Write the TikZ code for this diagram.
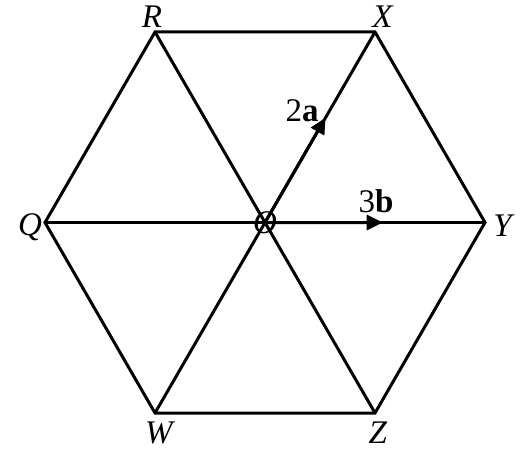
\documentclass[tikz,border=0pt]{standalone}
\usepackage{fontspec}
\setmainfont{Liberation Serif}
\usepackage{tikz}
\usetikzlibrary{calc,arrows.meta,positioning}

\tikzset{
  edge/.style={line width=1.5pt, line join=miter},
  vec/.style={line width=1.5pt, -{Triangle[length=8pt,width=7.5pt]}},
  lbl/.style={inner sep=0pt, font=\fontsize{16.5}{19}\selectfont}
}

\begin{document}
\begin{tikzpicture}[x=0.5pt,y=-0.5pt]

\useasboundingbox (0,0) rectangle (522,449);

\coordinate (O) at (265,222.5);
\coordinate (R) at (155,32);
\coordinate (X) at (375,32);
\coordinate (Y) at (485,222.5);
\coordinate (Z) at (375,413);
\coordinate (W) at (155,413);
\coordinate (Q) at (45,222.5);

% hexagon and diagonals
\draw[edge] (R) -- (X) -- (Y) -- (Z) -- (W) -- (Q) -- cycle;
\draw[edge] (R) -- (Z);
\draw[edge] (W) -- (X);
\draw[edge] (Q) -- (Y);

% vectors
\draw[vec] (O) -- ($(O)!0.55!(X)$);
\draw[vec] (O) -- ($(O)!0.535!(Y)$);

\node[lbl] (lR) at (152,17) {\textit{R}};
\node[lbl] (lX) at (383,17) {\textit{X}};
\node[lbl] (lY) at (504,226) {\textit{Y}};
\node[lbl] (lZ) at (378,433) {\textit{Z}};
\node[lbl] (lW) at (160,433) {\textit{W}};
\node[lbl] (lQ) at (30,227) {\textit{Q}};
\node[lbl] (lO) at (265,223) {\textit{O}};

\node[lbl] (la) at (302,111) {2\textbf{a}};
\node[lbl] (lb) at (376,201) {3\textbf{b}};

\end{tikzpicture}
\end{document}
